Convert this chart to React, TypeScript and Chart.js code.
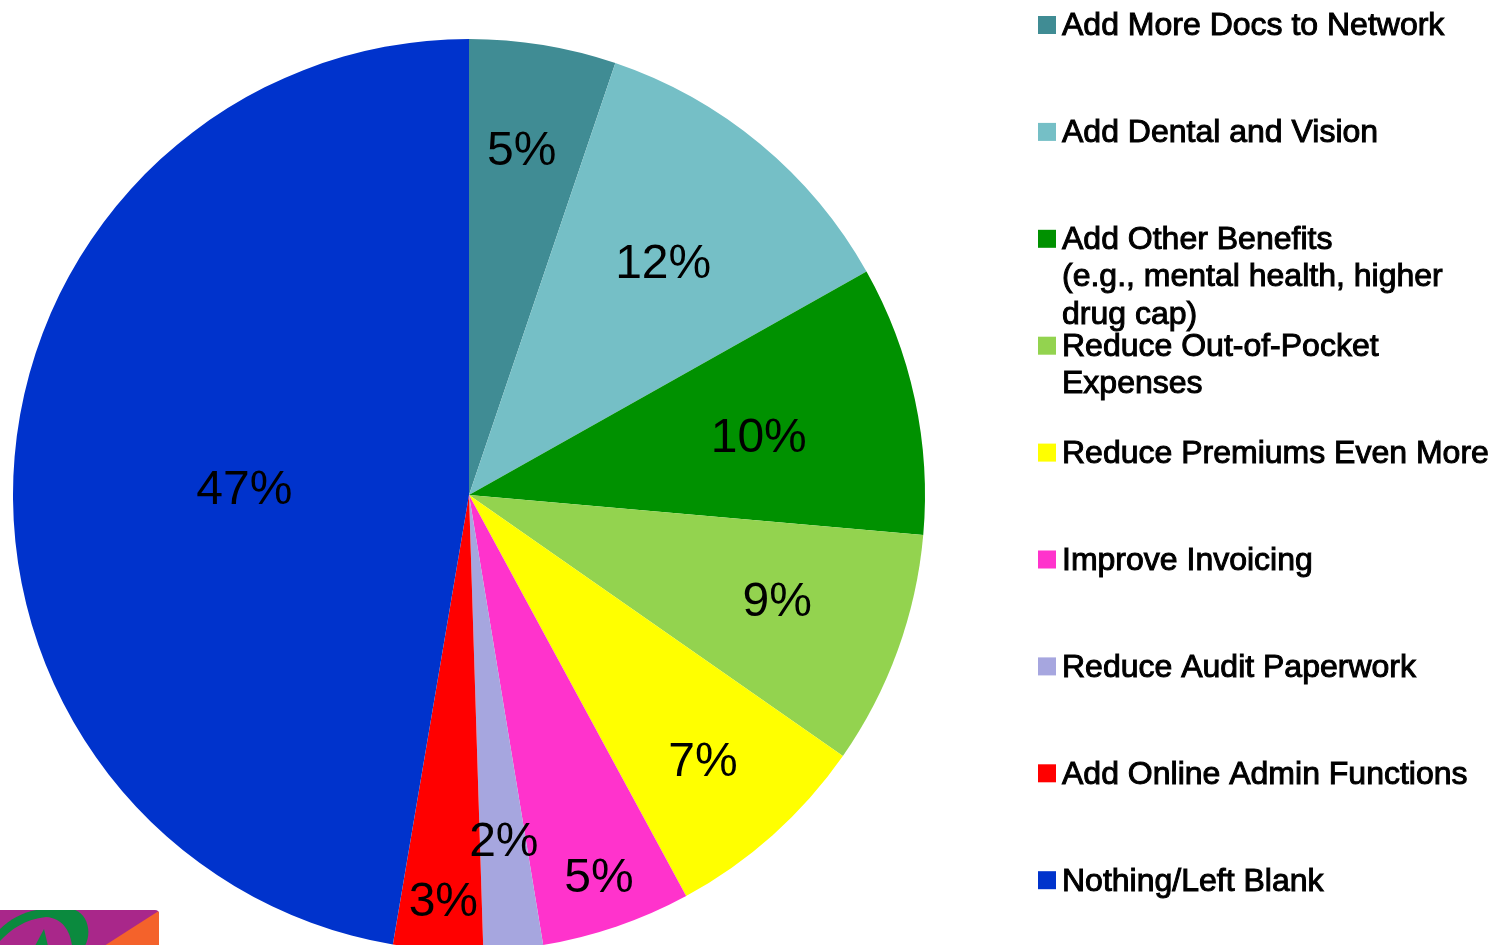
import React, { useEffect, useRef } from "react";
import { Chart, registerables } from "chart.js";

Chart.register(...registerables);

const categories = [
  "Add More Docs to Network",
  "Add Dental and Vision",
  "Add Other Benefits (e.g., mental health, higher drug cap)",
  "Reduce Out-of-Pocket Expenses",
  "Reduce Premiums Even More",
  "Improve Invoicing",
  "Reduce Audit Paperwork",
  "Add Online Admin Functions",
  "Nothing/Left Blank",
];
const legendLines = [
  ["Add More Docs to Network"],
  ["Add Dental and Vision"],
  ["Add Other Benefits", "(e.g., mental health, higher", "drug cap)"],
  ["Reduce Out-of-Pocket", "Expenses"],
  ["Reduce Premiums Even More"],
  ["Improve Invoicing"],
  ["Reduce Audit Paperwork"],
  ["Add Online Admin Functions"],
  ["Nothing/Left Blank"],
];
const shares = [5.2, 11.65, 9.55, 8.3, 7.4, 5.3, 2.1, 3.17, 47.33];
const percentLabels = ["5%", "12%", "10%", "9%", "7%", "5%", "2%", "3%", "47%"];
const sliceColors = [
  "#408C94", "#75BFC6", "#009100", "#93D34F", "#FFFF00",
  "#FF33CC", "#A6A6DF", "#FF0000", "#0033CC",
];

const FONT = '"Liberation Sans", Arial, sans-serif';

const percentPlugin = {
  id: "percentLabels",
  afterDatasetsDraw(chart: any) {
    const { ctx } = chart;
    const radiusFractions = [0.765, 0.66, 0.65, 0.71, 0.78, 0.886, 0.763, 0.89, 0.49];
    const nudgeX = [-4, 2, 0, 4, -3, -1, 1, 2, -2];
    const nudgeY = [-1, -1, 4, -5, 0, 0, -1, 1, 12];
    const arcs = chart.getDatasetMeta(0).data;
    ctx.save();
    ctx.font = `48px ${FONT}`;
    ctx.fillStyle = "#000";
    ctx.textAlign = "center";
    ctx.textBaseline = "middle";
    arcs.forEach((arc: any, i: number) => {
      const mid = (arc.startAngle + arc.endAngle) / 2;
      const r = arc.outerRadius * radiusFractions[i];
      ctx.fillText(
        percentLabels[i],
        arc.x + Math.cos(mid) * r + nudgeX[i],
        arc.y + Math.sin(mid) * r + nudgeY[i] + 2
      );
    });
    ctx.restore();
  },
};

const legendPlugin = {
  id: "slideLegend",
  afterDraw(chart: any) {
    const { ctx } = chart;
    ctx.save();
    ctx.font = `32px ${FONT}`;
    ctx.textAlign = "left";
    ctx.textBaseline = "middle";
    ctx.lineWidth = 1;
    ctx.strokeStyle = "#000";
    legendLines.forEach((lines, i) => {
      const y = 25 + i * 106.9;
      ctx.fillStyle = sliceColors[i];
      ctx.fillRect(1038, y - 9, 18, 18);
      ctx.fillStyle = "#000";
      lines.forEach((line, j) => {
        const ly = y + 1.5 + j * 37.3;
        ctx.fillText(line, 1062, ly);
        ctx.strokeText(line, 1062, ly);
      });
    });
    ctx.restore();
  },
};

const logoPlugin = {
  id: "cornerLogo",
  afterDraw(chart: any) {
    const { ctx } = chart;
    ctx.save();
    ctx.beginPath();
    ctx.moveTo(0, 910);
    ctx.lineTo(155, 910);
    ctx.quadraticCurveTo(159, 910, 159, 914);
    ctx.lineTo(159, 950);
    ctx.lineTo(0, 950);
    ctx.closePath();
    ctx.fillStyle = "#A9278A";
    ctx.fill();
    ctx.clip();
    ctx.fillStyle = "#F4622B";
    ctx.beginPath();
    ctx.moveTo(160, 910);
    ctx.lineTo(104, 946);
    ctx.lineTo(160, 946);
    ctx.closePath();
    ctx.fill();
    ctx.fillStyle = "#0B8A3E";
    ctx.beginPath();
    ctx.moveTo(0, 929);
    ctx.bezierCurveTo(12, 917, 28, 910, 45, 909);
    ctx.lineTo(72, 909);
    ctx.bezierCurveTo(86, 912, 93, 930, 85, 946);
    ctx.lineTo(0, 946);
    ctx.closePath();
    ctx.fill();
    ctx.fillStyle = "#A9278A";
    ctx.beginPath();
    ctx.moveTo(0, 941);
    ctx.bezierCurveTo(10, 930, 25, 919, 46, 917);
    ctx.bezierCurveTo(62, 918, 70, 930, 72, 946);
    ctx.lineTo(0, 946);
    ctx.closePath();
    ctx.fill();
    ctx.fillStyle = "#0B8A3E";
    ctx.beginPath();
    ctx.moveTo(35, 946);
    ctx.lineTo(44, 929);
    ctx.lineTo(48, 946);
    ctx.closePath();
    ctx.fill();
    ctx.restore();
  },
};

export default function App() {
  const ref = useRef<HTMLCanvasElement>(null);
  useEffect(() => {
    document.body.style.margin = "0";
    document.body.style.background = "#fff";
    const chart = new Chart(ref.current as HTMLCanvasElement, {
      type: "pie",
      data: {
        labels: categories,
        datasets: [
          {
            data: shares,
            backgroundColor: sliceColors,
            borderWidth: 0,
          },
        ],
      },
      options: {
        animation: false,
        responsive: false,
        maintainAspectRatio: false,
        layout: { padding: { left: 13, right: 571, top: 39, bottom: 39 } },
        plugins: { legend: { display: false }, tooltip: { enabled: false } },
      },
      plugins: [percentPlugin, legendPlugin, logoPlugin],
    } as any);
    return () => chart.destroy();
  }, []);
  return (
    <div style={{ width: 1496, height: 945, overflow: "hidden", position: "relative" }}>
      <canvas ref={ref} width={1496} height={990} style={{ display: "block" }} />
    </div>
  );
}
